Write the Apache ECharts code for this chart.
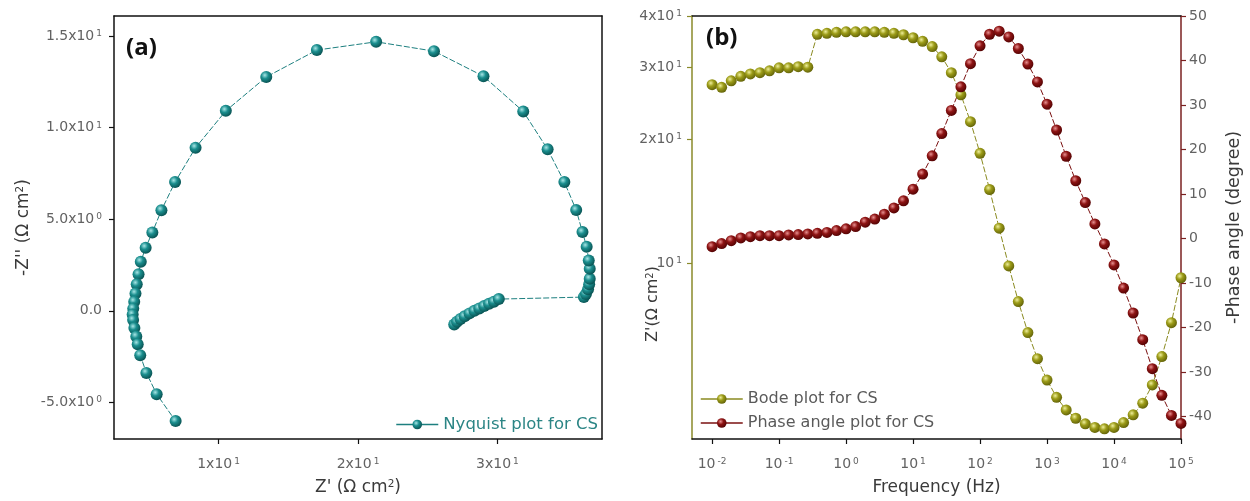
<!DOCTYPE html>
<html><head><meta charset="utf-8">
<script src="https://cdn.jsdelivr.net/npm/echarts@6/dist/echarts.min.js"></script>
<style>html,body{margin:0;padding:0;background:#fff}#c{width:1250px;height:501px}</style>
</head><body><div id="c"></div>
<script>
// ---- Panel (a): Nyquist ----
const nyqRe = [26.9,27.1,27.35,27.65,28.0,28.35,28.7,29.05,29.4,29.75,30.1,
  36.2,36.35,36.5,36.58,36.62,36.62,36.55,36.4,36.1,35.65,34.8,33.6,31.85,29.0,25.45,
  21.3,17.05,13.42,10.52,8.35,6.88,5.9,5.25,4.77,4.42,4.26,4.13,4.04,3.95,3.88,3.84,
  3.87,3.96,4.1,4.2,4.38,4.82,5.56,6.92];
const nyqIm = [-0.75,-0.6,-0.45,-0.3,-0.14,0.0,0.13,0.26,0.38,0.5,0.64,
  0.75,0.92,1.18,1.45,1.75,2.3,2.75,3.5,4.3,5.5,7.03,8.82,10.89,12.81,14.18,
  14.69,14.24,12.77,10.92,8.91,7.03,5.49,4.28,3.45,2.68,2.0,1.45,0.95,0.5,0.12,-0.2,
  -0.5,-0.94,-1.4,-1.82,-2.42,-3.39,-4.55,-6.02];
const nyqXTicks = [10,20,30];
const nyqYTicks = [-5,0,5,10,15];

// ---- Panel (b): Bode ----
const freq = [0.01,0.01389,0.01931,0.02683,0.03728,0.05179,0.07197,
  0.1,0.1389,0.1931,0.2683,0.3728,0.5179,0.7197,
  1,1.389,1.931,2.683,3.728,5.179,7.197,
  10,13.89,19.31,26.83,37.28,51.79,71.97,
  100,138.9,193.1,268.3,372.8,517.9,719.7,
  1000,1389,1931,2683,3728,5179,7197,
  10000,13890,19310,26830,37280,51790,71970,100000];
const bodeZ = [27.2,26.8,27.8,28.5,28.9,29.1,29.4,29.9,29.9,30.1,30.0,
  36.1,36.3,36.5,36.6,36.6,36.6,36.6,36.5,36.3,36.0,35.4,34.7,33.7,31.8,29.1,
  25.7,22.1,18.5,15.1,12.15,9.83,8.05,6.76,5.84,5.18,4.70,4.38,4.18,4.05,3.97,
  3.94,3.97,4.08,4.26,4.55,5.04,5.91,7.15,9.2];
const phase = [-1.8,-1.1,-0.45,0.16,0.45,0.67,0.67,0.67,0.83,0.9,1.05,
  1.2,1.4,1.8,2.2,2.7,3.7,4.4,5.5,6.9,8.5,11.1,14.5,18.6,23.6,28.8,
  34.1,39.3,43.3,45.9,46.6,45.3,42.7,39.2,35.2,30.2,24.4,18.5,13.0,8.1,3.3,
  -1.2,-5.9,-11.1,-16.7,-22.7,-29.2,-35.2,-39.7,-41.5];
const freqTicks = [0.01,0.1,1,10,100,1000,10000,100000];
const zTicks = [10,20,30,40];
const phaseTicks = [-40,-30,-20,-10,0,10,20,30,40,50];

const labelColor = '#626262';
const nameColor = '#3a3a3a';
const FONT = '"DejaVu Sans", sans-serif';
const supStyle = {fontSize: 9, color: labelColor, fontFamily: FONT, verticalAlign: 'top', lineHeight: 8, padding:[0,0,0,2]};
const baseRich = {sup: supStyle};
const nameSup = {sup:{fontSize:10.5, color:nameColor, fontFamily: FONT, verticalAlign:'top', lineHeight:9}};

function sphere(light, mid, dark) {
  return {type:'radial', x:0.38, y:0.35, r:0.65,
    colorStops:[{offset:0,color:light},{offset:0.45,color:mid},{offset:1,color:dark}]};
}

function fmtNyqY(v) {
  if (v === 0) return '0.0';
  const e = Math.abs(v) >= 10 ? 1 : 0;
  const m = v / Math.pow(10, e);
  return m.toFixed(1) + 'x10{sup|' + e + '}';
}
function fmtNyqX(v) { return (v/10) + 'x10{sup|1}'; }
function fmtLogF(v) { return '10{sup|' + Math.round(Math.log10(v)) + '}'; }
function fmtZ(v) { return v === 10 ? '10{sup|1}' : (v/10) + 'x10{sup|1}'; }

const chart = echarts.init(document.getElementById('c'), null, {renderer:'canvas'});

const axisLineBlack = {show:true, onZero:false, lineStyle:{color:'#111', width:1.5}};
const tickOut = (color) => ({show:true, inside:false, length:5, lineStyle:{color:color, width:1.2}});
const tickFont = {color: labelColor, fontSize: 14, fontFamily: FONT};

const option = {
  animation: false,
  backgroundColor: '#fff',
  textStyle: {fontFamily: FONT},
  grid: [
    {left:114, top:16, width:488, height:423, containLabel:false},
    {left:692, top:16, width:489, height:423, containLabel:false}
  ],
  xAxis: [
    {type:'value', gridIndex:0, min:2.5, max:37.5, position:'bottom',
     axisLine: axisLineBlack,
     axisTick: Object.assign(tickOut('#111'), {customValues: nyqXTicks}),
     axisLabel: Object.assign({customValues: nyqXTicks, formatter: fmtNyqX, margin: 18, rich: baseRich}, tickFont),
     splitLine:{show:false},
     name: "Z' (Ω cm{sup|2})", nameLocation:'middle', nameGap: 40,
     nameTextStyle:{fontSize:17, color:nameColor, fontFamily: FONT, rich: nameSup}
    },
    {type:'value', gridIndex:0, min:2.5, max:37.5, position:'top',
     axisLine: axisLineBlack, axisTick:{show:false}, axisLabel:{show:false}, splitLine:{show:false}},
    {type:'log', gridIndex:1, logBase:10, min:0.005012, max:100000, position:'bottom',
     axisLine: axisLineBlack,
     axisTick: Object.assign(tickOut('#111'), {customValues: freqTicks}),
     axisLabel: Object.assign({customValues: freqTicks, formatter: fmtLogF, margin: 18, rich: baseRich}, tickFont),
     splitLine:{show:false}, minorTick:{show:false},
     name: 'Frequency (Hz)', nameLocation:'middle', nameGap: 40,
     nameTextStyle:{fontSize:17, color:nameColor, fontFamily: FONT}
    },
    {type:'log', gridIndex:1, logBase:10, min:0.005012, max:100000, position:'top',
     axisLine: axisLineBlack, axisTick:{show:false}, axisLabel:{show:false}, splitLine:{show:false}}
  ],
  yAxis: [
    {type:'value', gridIndex:0, min:-7, max:16.1, position:'left',
     axisLine: axisLineBlack,
     axisTick: Object.assign(tickOut('#111'), {customValues: nyqYTicks}),
     axisLabel: Object.assign({customValues: nyqYTicks, formatter: fmtNyqY, margin: 12, rich: baseRich}, tickFont),
     splitLine:{show:false},
     name: "-Z'' (Ω cm{sup|2})", nameLocation:'middle', nameGap: 82,
     nameTextStyle:{fontSize:17, color:nameColor, fontFamily: FONT, rich: nameSup}
    },
    {type:'value', gridIndex:0, min:-7, max:16.1, position:'right',
     axisLine: axisLineBlack, axisTick:{show:false}, axisLabel:{show:false}, splitLine:{show:false}},
    {type:'log', gridIndex:1, logBase:10, min:3.72, max:40, position:'left',
     axisLine: {show:true, onZero:false, lineStyle:{color:'#8a8a2a', width:1.5}},
     axisTick: Object.assign(tickOut('#8a8a2a'), {customValues: zTicks}),
     axisLabel: Object.assign({customValues: zTicks, formatter: fmtZ, margin: 10, rich: baseRich}, tickFont),
     splitLine:{show:false}, minorTick:{show:false}
    },
    {type:'value', gridIndex:1, min:-45, max:50, position:'right',
     axisLine: {show:true, onZero:false, lineStyle:{color:'#7a2020', width:1.5}},
     axisTick: Object.assign(tickOut('#7a2020'), {customValues: phaseTicks}),
     axisLabel: Object.assign({customValues: phaseTicks, margin: 8}, tickFont),
     splitLine:{show:false},
     name: '-Phase angle (degree)', nameLocation:'middle', nameGap: 44, nameRotate: 90,
     nameTextStyle:{fontSize:17.5, color:nameColor, fontFamily: FONT}
    }
  ],
  legend: [
    {data:['Nyquist plot for CS'], right: 652, top: 416, padding:0, itemWidth:42, itemHeight:12,
     lineStyle:{type:'solid', width:1.5},
     textStyle:{color:'#2b8585', fontSize:16.5, fontFamily: FONT}},
    {data:['Bode plot for CS','Phase angle plot for CS'], orient:'vertical', left: 700, top: 391, padding:0,
     itemWidth:42, itemHeight:12, itemGap: 8,
     lineStyle:{type:'solid', width:1.5},
     textStyle:{color:'#5a5a5a', fontSize:16, fontFamily: FONT}}
  ],
  graphic: [
    {type:'text', left:126, top:36, style:{text:'(a)', font:'bold 24px "Open Sans", sans-serif', fill:'#111'}},
    {type:'text', left:706, top:26, style:{text:'(b)', font:'bold 24px "Open Sans", sans-serif', fill:'#111'}},
    {type:'text', x:653, y:304, rotation: Math.PI/2,
     style:{text:"Z'(Ω cm{sup|2})", align:'center', verticalAlign:'middle', fontSize:16, fontFamily: FONT, fill:nameColor,
       rich:{sup:{fontSize:10, fill:nameColor, fontFamily: FONT, verticalAlign:'top', lineHeight:9}}}}
  ],
  series: [
    {name:'Nyquist plot for CS', type:'line', xAxisIndex:0, yAxisIndex:0,
     data: nyqRe.map((x,i)=>[x, nyqIm[i]]),
     symbol:'circle', symbolSize:12, showAllSymbol:true,
     lineStyle:{color:'#1d7f7f', width:1, type:[6,2]},
     itemStyle:{color: sphere('#a8e6e6','#1b8f8f','#0a5555'), borderWidth:0}},
    {name:'Bode plot for CS', type:'line', xAxisIndex:2, yAxisIndex:2,
     data: freq.map((f,i)=>[f, bodeZ[i]]),
     symbol:'circle', symbolSize:11, showAllSymbol:true,
     lineStyle:{color:'#8a8a20', width:1, type:[6,2]},
     itemStyle:{color: sphere('#eeee9a','#9c9c18','#66660a'), borderWidth:0}},
    {name:'Phase angle plot for CS', type:'line', xAxisIndex:2, yAxisIndex:3,
     data: freq.map((f,i)=>[f, phase[i]]),
     symbol:'circle', symbolSize:11, showAllSymbol:true,
     lineStyle:{color:'#7a1010', width:1, type:[6,2]},
     itemStyle:{color: sphere('#e89090','#8e1414','#560404'), borderWidth:0}}
  ]
};
chart.setOption(option);
</script>
</body></html>
